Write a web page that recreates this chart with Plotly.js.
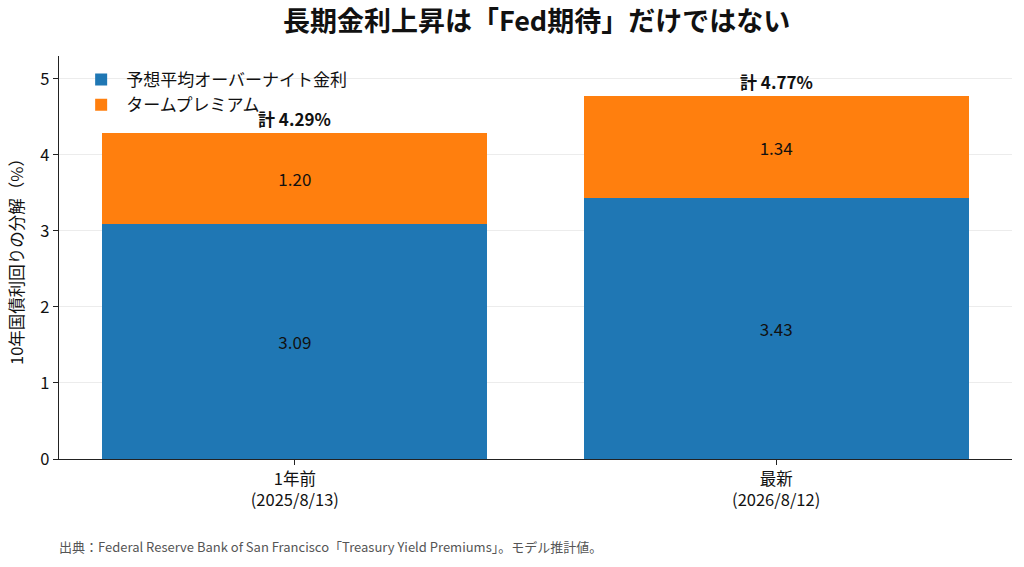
<!DOCTYPE html>
<html>
<head>
<meta charset="utf-8">
<script src="https://cdn.plot.ly/plotly-3.0.1.min.js"></script>
<style>
  html, body { margin: 0; padding: 0; background: #fff; }
  #chart { width: 1024px; height: 567px; }
</style>
</head>
<body>
<div id="chart"></div>
<script>
// 10年国債利回りの分解 (NY連銀モデル)
const categories = ['1年前<br>(2025/8/13)', '最新<br>(2026/8/12)'];
const expectedRate = [3.09, 3.43];
const termPremium = [1.20, 1.34];
const totals = [4.29, 4.77];

const FONT = '"Noto Sans CJK JP", "Noto Sans", sans-serif';

const traces = [
    {
        type: 'bar',
        name: '予想平均オーバーナイト金利',
        x: categories,
        y: expectedRate,
        width: 0.8,
        marker: { color: '#1f77b4' },
        texttemplate: '%{y:.2f}',
        textposition: 'inside',
        insidetextanchor: 'middle',
        textfont: { color: '#111', size: 17, family: FONT },
        hoverinfo: 'skip'
    },
    {
        type: 'bar',
        name: 'タームプレミアム',
        x: categories,
        y: termPremium,
        width: 0.8,
        marker: { color: '#ff7f0e' },
        texttemplate: '%{y:.2f}',
        textposition: 'inside',
        insidetextanchor: 'middle',
        textfont: { color: '#111', size: 17, family: FONT },
        hoverinfo: 'skip'
    }
];

const totalLabels = categories.map((c, i) => ({
    x: c,
    y: totals[i],
    xref: 'x',
    yref: 'y',
    text: '<b>計 ' + totals[i].toFixed(2) + '%</b>',
    showarrow: false,
    yanchor: 'bottom',
    yshift: 0,
    font: { size: 17, color: '#111', family: FONT }
}));

const layout = {
    width: 1024,
    height: 567,
    paper_bgcolor: '#fff',
    plot_bgcolor: '#fff',
    font: { family: FONT, color: '#111', size: 17 },
    margin: { l: 59, r: 12, t: 56, b: 108 },
    barmode: 'stack',
    bargap: 0.2,
    title: {
        text: '<b>長期金利上昇は「Fed期待」だけではない</b>',
        font: { size: 27, family: FONT, color: '#111' },
        x: 0.524,
        xanchor: 'center',
        y: 0.962,
        yanchor: 'middle'
    },
    xaxis: {
        range: [-0.49, 1.49],
        showline: true,
        linecolor: '#222',
        linewidth: 1.2,
        ticks: 'outside',
        ticklen: 5,
        tickcolor: '#222',
        showgrid: false,
        tickfont: { size: 16.5, family: FONT, color: '#111' },
        zeroline: false
    },
    yaxis: {
        range: [0, 5.3],
        dtick: 1,
        showline: true,
        linecolor: '#222',
        linewidth: 1.2,
        ticks: 'outside',
        ticklen: 5,
        tickcolor: '#222',
        showgrid: true,
        gridcolor: '#ececec',
        zeroline: false,
        tickfont: { size: 16.5, family: FONT, color: '#111' },
        title: {
            text: '10年国債利回りの分解（%）',
            font: { size: 16.5, family: FONT, color: '#111' },
            standoff: 12
        }
    },
    legend: {
        x: 0.018,
        y: 0.985,
        xanchor: 'left',
        yanchor: 'top',
        bgcolor: 'rgba(255,255,255,0)',
        borderwidth: 0,
        itemwidth: 40,
        traceorder: 'normal',
        font: { size: 17, family: FONT, color: '#111' }
    },
    annotations: totalLabels.concat([{
        xref: 'paper',
        yref: 'paper',
        x: -0.002,
        y: -0.218,
        xanchor: 'left',
        yanchor: 'middle',
        showarrow: false,
        text: '出典：Federal Reserve Bank of San Francisco「Treasury Yield Premiums」。モデル推計値。',
        font: { size: 13, color: '#555', family: FONT }
    }])
};

Plotly.newPlot('chart', traces, layout, { displayModeBar: false, staticPlot: true });
</script>
</body>
</html>
